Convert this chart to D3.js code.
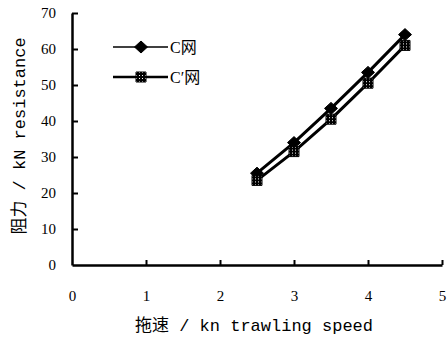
<!DOCTYPE html>
<html>
<head>
<meta charset="utf-8" />
<title>阻力 - 拖速</title>
<style type="text/css">
body{ margin:0; background:#fff; }
.tick text{ font-family:"Liberation Serif","DejaVu Serif",serif; font-size:15px; fill:#000; }
.title{ font-family:"Liberation Mono","Noto Sans CJK SC",monospace; font-size:17px; fill:#000; }
.legend text{ font-family:"Liberation Serif","Noto Sans CJK SC",serif; font-size:16px; fill:#000; }
</style>
<script src="https://cdn.jsdelivr.net/npm/d3@7"></script>
</head>
<body>
<script>
	// 数据
	var speed = [2.5, 3, 3.5, 4, 4.5];
	var netC = [25.5, 34, 43.5, 53.5, 64];
	var netC2 = [23.5, 31.5, 40.5, 50.5, 61];
	var xTicks = [0, 1, 2, 3, 4, 5];
	var yTicks = [0, 10, 20, 30, 40, 50, 60, 70];

	var W = 448, H = 340;
	var svg = d3.select("body").append("svg").attr("width", W).attr("height", H);

	var x = d3.scaleLinear().domain([0, 5]).range([72, 442]);
	var y = d3.scaleLinear().domain([0, 70]).range([265, 13]);

	// 坐标轴
	var gx = svg.append("g").attr("transform", "translate(0," + y(0) + ")")
		.call(d3.axisBottom(x).tickValues(xTicks).tickFormat(d3.format("d"))
			.tickSize(-5).tickPadding(25).tickSizeOuter(0));
	var gy = svg.append("g").attr("transform", "translate(" + x(0) + ",0)")
		.call(d3.axisLeft(y).tickValues(yTicks).tickFormat(d3.format("d"))
			.tickSize(-6).tickPadding(16).tickSizeOuter(0));
	[gx, gy].forEach(function(g){
		g.select(".domain").attr("stroke", "#000").attr("stroke-width", 2.5);
		g.selectAll(".tick line").attr("stroke", "#000").attr("stroke-width", 2);
	});
	gy.selectAll(".tick").filter(function(d){ return d === 0; }).select("line").remove();
	gx.selectAll(".tick").filter(function(d){ return d === 0; }).select("line").remove();
	gx.selectAll(".tick text").attr("dy", "0.71em");

	// 网格图案
	var defs = svg.append("defs");
	var pat = defs.append("pattern").attr("id", "hatch").attr("patternUnits", "userSpaceOnUse")
		.attr("width", 3).attr("height", 3);
	pat.append("rect").attr("width", 3).attr("height", 3).attr("fill", "#000");
	pat.append("rect").attr("x", 1).attr("y", 1).attr("width", 1).attr("height", 1).attr("fill", "#fff");

	var line = d3.line().x(function(d){ return x(d[0]); }).y(function(d){ return y(d[1]); });

	function series(vals, marker){
		var pts = speed.map(function(s, i){ return [s, vals[i]]; });
		svg.append("path").datum(pts).attr("d", line)
			.attr("fill", "none").attr("stroke", "#000").attr("stroke-width", 3);
		svg.selectAll(null).data(pts).enter().append("path")
			.attr("transform", function(d){ return "translate(" + x(d[0]) + "," + y(d[1]) + ")"; })
			.attr("d", marker.d).attr("fill", marker.fill).attr("stroke", "#000").attr("stroke-width", 1);
	}
	var diamond = { d: "M0,-6L6.5,0L0,6L-6.5,0Z", fill: "#000" };
	var square = { d: "M-5,-5H5V5H-5Z", fill: "url(#hatch)" };
	series(netC, diamond);
	series(netC2, square);

	// 图例
	var leg = svg.append("g").attr("class", "legend");
	var items = [
		{ label: "C网", m: diamond, w: 1.5, y: 47 },
		{ label: "C′网", m: square, w: 2.5, y: 77 }
	];
	items.forEach(function(it){
		leg.append("line").attr("x1", 113).attr("x2", 168).attr("y1", it.y).attr("y2", it.y)
			.attr("stroke", "#000").attr("stroke-width", it.w);
		leg.append("path").attr("transform", "translate(141," + it.y + ")")
			.attr("d", it.m.d).attr("fill", it.m.fill).attr("stroke", "#000").attr("stroke-width", 1);
		leg.append("text").attr("x", 170).attr("y", it.y + 6).text(it.label);
	});

	// 轴标题
	svg.append("text").attr("class", "title").attr("x", 254).attr("y", 331)
		.attr("text-anchor", "middle").text("拖速 / kn trawling speed");
	svg.append("text").attr("class", "title")
		.attr("transform", "translate(25,136) rotate(-90)")
		.attr("text-anchor", "middle").text("阻力 / kN  resistance");
</script>
</body>
</html>
